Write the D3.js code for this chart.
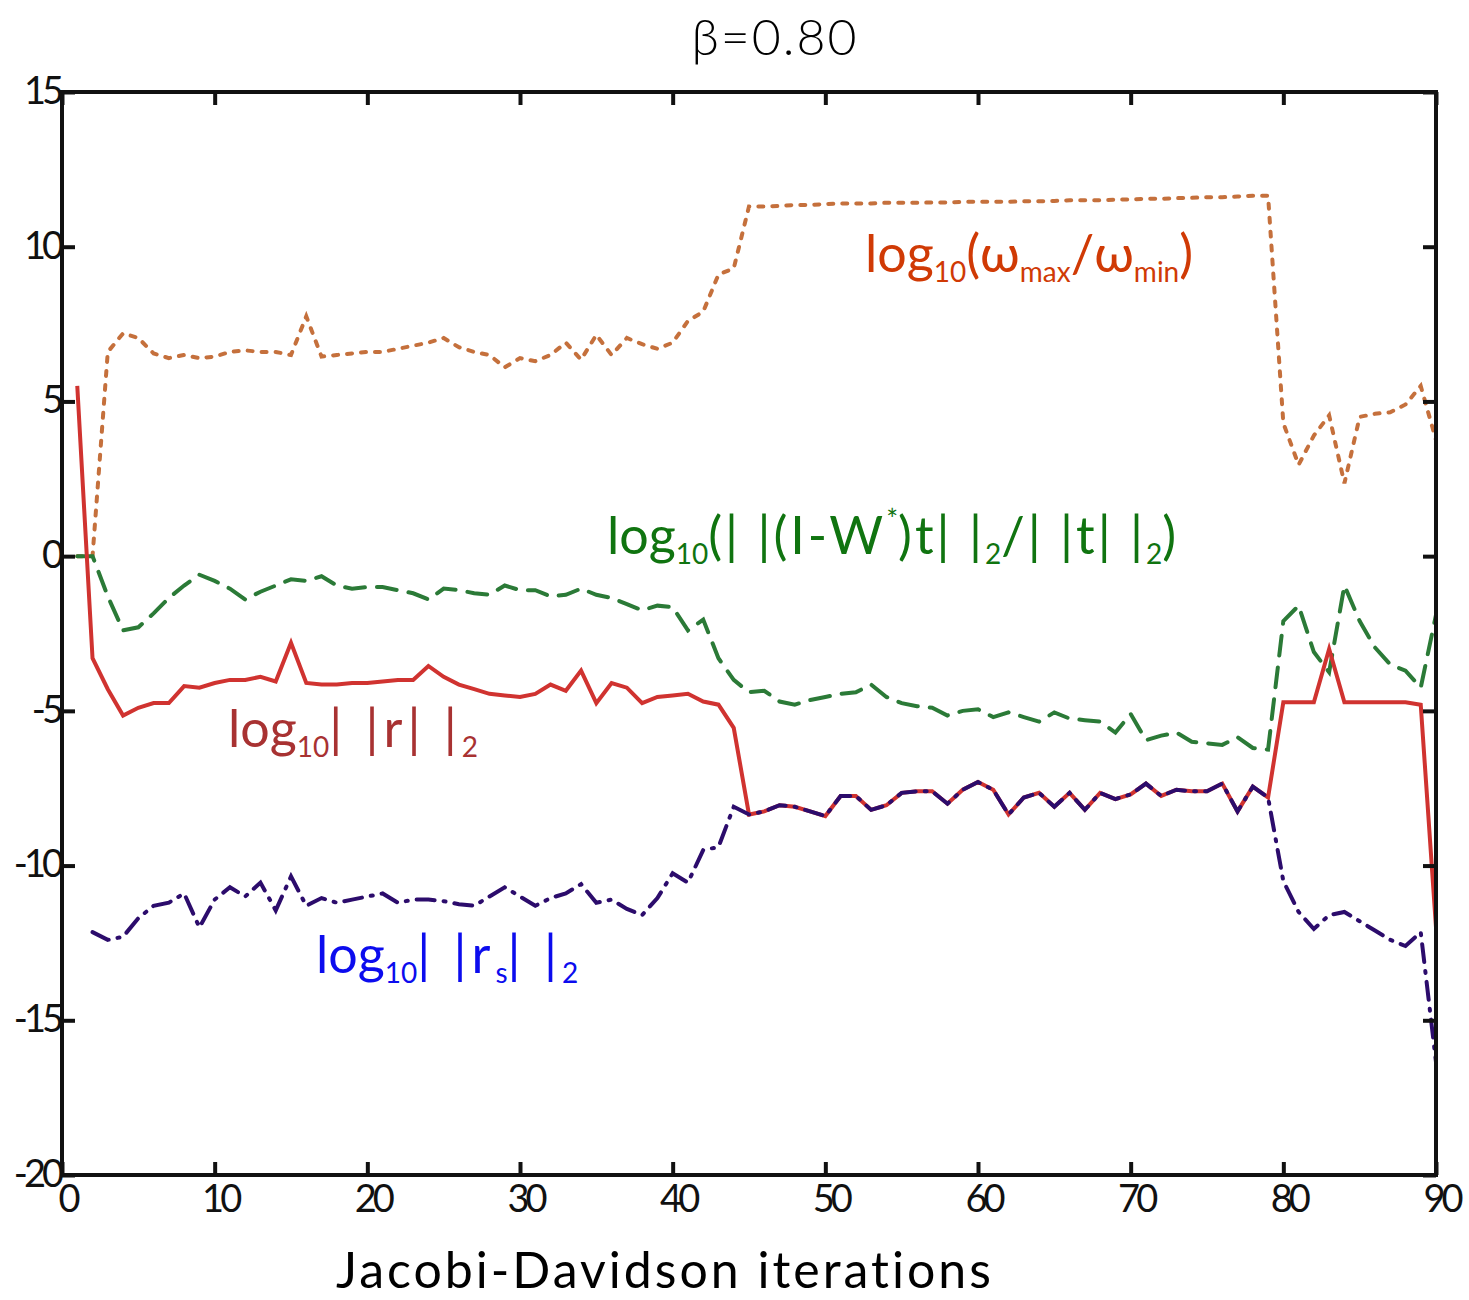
<!DOCTYPE html>
<html>
<head>
<meta charset="utf-8">
<script src="https://cdn.jsdelivr.net/npm/d3@7"></script>
<style>
    body { margin: 0; background: #fff; }
    text { font-family: Lato, "Open Sans", sans-serif; }
</style>
</head>
<body>
<div id="chart"></div>
<script>
// iterations 1..90
const residual = [5.5, -3.3, -4.3, -5.15, -4.9, -4.75, -4.75, -4.2, -4.25, -4.1,
    -4.0, -4.0, -3.9, -4.05, -2.8, -4.1, -4.15, -4.15, -4.1, -4.1,
    -4.05, -4.0, -4.0, -3.55, -3.9, -4.15, -4.3, -4.45, -4.5, -4.55,
    -4.45, -4.15, -4.35, -3.7, -4.75, -4.1, -4.25, -4.75, -4.55, -4.5,
    -4.45, -4.7, -4.8, -5.55, -8.35, -8.25, -8.05, -8.1, -8.25, -8.4,
    -7.75, -7.75, -8.2, -8.05, -7.65, -7.6, -7.6, -8.0, -7.55, -7.3,
    -7.55, -8.35, -7.8, -7.65, -8.1, -7.65, -8.2, -7.65, -7.85, -7.7,
    -7.35, -7.75, -7.55, -7.6, -7.6, -7.35, -8.25, -7.45, -7.8, -4.72,
    -4.72, -4.72, -3.0, -4.72, -4.72, -4.72, -4.72, -4.72, -4.8, -12.0];

// iterations 2..90
const residualS = [-12.15, -12.4, -12.3, -11.7, -11.3, -11.2, -10.9, -12.0, -11.1,
    -10.7, -11.0, -10.55, -11.45, -10.35, -11.3, -11.05, -11.2, -11.1, -11.0,
    -10.9, -11.2, -11.1, -11.1, -11.15, -11.25, -11.3, -11.0, -10.7, -11.0,
    -11.3, -11.05, -10.9, -10.6, -11.2, -11.1, -11.4, -11.6, -11.05, -10.25,
    -10.55, -9.5, -9.4, -8.1, -8.35, -8.25, -8.05, -8.1, -8.25, -8.4,
    -7.75, -7.75, -8.2, -8.05, -7.65, -7.6, -7.6, -8.0, -7.55, -7.3,
    -7.55, -8.35, -7.8, -7.65, -8.1, -7.65, -8.2, -7.65, -7.85, -7.7,
    -7.35, -7.75, -7.55, -7.6, -7.6, -7.35, -8.25, -7.45, -7.8, -10.5,
    -11.5, -12.05, -11.6, -11.5, -11.8, -12.1, -12.4, -12.6, -12.15, -16.35];

// iterations 1..90
const projRatio = [0.0, 0.0, -1.3, -2.4, -2.3, -1.85, -1.35, -0.95, -0.6, -0.8,
    -1.05, -1.4, -1.15, -0.95, -0.75, -0.8, -0.65, -0.95, -1.05, -1.0,
    -1.0, -1.1, -1.2, -1.4, -1.05, -1.1, -1.2, -1.25, -0.95, -1.1,
    -1.1, -1.3, -1.25, -1.05, -1.25, -1.35, -1.55, -1.75, -1.6, -1.65,
    -2.4, -2.05, -3.3, -4.0, -4.4, -4.35, -4.7, -4.8, -4.65, -4.55,
    -4.45, -4.4, -4.15, -4.55, -4.75, -4.85, -4.9, -5.15, -5.0, -4.95,
    -5.2, -5.05, -5.2, -5.35, -5.05, -5.25, -5.3, -5.35, -5.7, -5.1,
    -5.95, -5.8, -5.7, -6.0, -6.05, -6.1, -5.85, -6.2, -6.25, -2.1,
    -1.6, -3.1, -3.75, -0.95, -2.1, -2.95, -3.5, -3.7, -4.25, -1.9];

// iterations 1..90
const condNumber = [0.0, 0.0, 6.6, 7.2, 7.05, 6.55, 6.4, 6.5, 6.4, 6.45,
    6.6, 6.65, 6.6, 6.6, 6.5, 7.75, 6.45, 6.5, 6.55, 6.6,
    6.6, 6.7, 6.8, 6.9, 7.05, 6.75, 6.6, 6.5, 6.1, 6.4,
    6.3, 6.5, 6.9, 6.35, 7.15, 6.5, 7.05, 6.85, 6.7, 6.9,
    7.6, 7.9, 9.1, 9.3, 11.3, 11.3, 11.32, 11.35, 11.35, 11.38,
    11.4, 11.4, 11.4, 11.42, 11.42, 11.42, 11.43, 11.43, 11.45, 11.45,
    11.45, 11.45, 11.47, 11.47, 11.48, 11.5, 11.5, 11.5, 11.52, 11.53,
    11.55, 11.55, 11.57, 11.58, 11.6, 11.6, 11.62, 11.65, 11.65, 4.3,
    2.95, 3.9, 4.55, 2.35, 4.5, 4.6, 4.65, 4.9, 5.5, 3.75];

const xTicks = [0, 10, 20, 30, 40, 50, 60, 70, 80, 90];
const yTicks = [-20, -15, -10, -5, 0, 5, 10, 15];
const chartTitle = "\u03B2=0.80";
const xTitle = "Jacobi-Davidson iterations";

class ConvergencePlot {
    constructor(parentElement) {
        this.parentElement = parentElement;
        this.initVis();
    }

    initVis() {
        let vis = this;

        vis.margin = {top: 92, right: 33, bottom: 125, left: 62};
        vis.width = 1469 - vis.margin.left - vis.margin.right;
        vis.height = 1300 - vis.margin.top - vis.margin.bottom;

        vis.svgRoot = d3.select("#" + vis.parentElement).append("svg")
            .attr("width", 1469)
            .attr("height", 1300);

        vis.svg = vis.svgRoot.append("g")
            .attr("transform", `translate(${vis.margin.left}, ${vis.margin.top})`);

        vis.x = d3.scaleLinear().domain([0, 90]).range([0, vis.width]);
        vis.y = d3.scaleLinear().domain([-20, 15]).range([vis.height, 0]);

        vis.line = d3.line()
            .x(d => vis.x(d.iter))
            .y(d => vis.y(d.val));

        vis.wrangleData();
    }

    wrangleData() {
        let vis = this;
        const toPoints = (arr, start) => arr.map((v, k) => ({iter: start + k, val: v}));

        vis.series = [
            {key: "cond", pts: toPoints(condNumber, 1), color: "#c5703c", dash: "5,9", cap: "round"},
            {key: "proj", pts: toPoints(projRatio, 1), color: "#2b7a37", dash: "20,12", cap: "round"},
            {key: "res", pts: toPoints(residual, 1), color: "#d03330", dash: null, cap: "butt"},
            {key: "resS", pts: toPoints(residualS, 2), color: "#2c0c6c", dash: "18,9,2,9", cap: "round"}
        ];

        vis.updateVis();
    }

    updateVis() {
        let vis = this;

        // clip lines to the frame
        vis.svgRoot.append("defs").append("clipPath").attr("id", "plotClip")
            .append("rect").attr("x", 0).attr("y", -2).attr("width", vis.width).attr("height", vis.height + 4);

        vis.svg.append("g").attr("clip-path", "url(#plotClip)")
            .selectAll(".series")
            .data(vis.series)
            .enter()
            .append("path")
            .attr("class", "series")
            .attr("d", d => vis.line(d.pts))
            .attr("fill", "none")
            .attr("stroke", d => d.color)
            .attr("stroke-width", 4)
            .attr("stroke-linejoin", "miter")
            .attr("stroke-linecap", d => d.cap)
            .attr("stroke-dasharray", d => d.dash);

        // axes with inward ticks on all four sides
        const tickFmt = d => String(d);
        vis.svg.append("g").attr("class", "axis x-axis")
            .attr("transform", `translate(0, ${vis.height})`)
            .call(d3.axisBottom(vis.x).tickValues(xTicks).tickSizeInner(-13).tickSizeOuter(0).tickPadding(10).tickFormat(tickFmt));
        vis.svg.append("g").attr("class", "axis")
            .call(d3.axisTop(vis.x).tickValues(xTicks).tickSizeInner(-13).tickSizeOuter(0).tickFormat(""));
        vis.svg.append("g").attr("class", "axis y-axis")
            .call(d3.axisLeft(vis.y).tickValues(yTicks).tickSizeInner(-13).tickSizeOuter(0).tickPadding(2).tickFormat(tickFmt));
        vis.svg.append("g").attr("class", "axis")
            .attr("transform", `translate(${vis.width}, 0)`)
            .call(d3.axisRight(vis.y).tickValues(yTicks).tickSizeInner(-13).tickSizeOuter(0).tickFormat(""));

        vis.svg.selectAll(".axis path").remove();
        vis.svg.selectAll(".axis line").attr("stroke", "#111").attr("stroke-width", 4);
        vis.svg.selectAll(".axis text")
            .attr("fill", "#111")
            .style("font-size", "38px")
            .style("letter-spacing", "-4px");
        vis.svg.selectAll(".x-axis text").attr("dy", "0.72em").attr("dx", 5);
        vis.svg.selectAll(".y-axis text").attr("dy", "0.3em");

        vis.svg.append("rect")
            .attr("width", vis.width).attr("height", vis.height)
            .attr("fill", "none").attr("stroke", "#111").attr("stroke-width", 4);

        // titles
        vis.svgRoot.append("text")
            .attr("x", 775).attr("y", 55)
            .attr("text-anchor", "middle")
            .style("font-size", "50px")
            .style("font-weight", 300)
            .style("letter-spacing", "2px")
            .text(chartTitle);

        vis.svgRoot.append("text")
            .attr("x", 665).attr("y", 1288)
            .attr("text-anchor", "middle")
            .style("font-size", "50px")
            .style("letter-spacing", "3px")
            .text(xTitle);

        // inline series labels
        vis.addLabel(865, 272, "#d03a05", [
            {t: "log"}, {t: "10", sub: true}, {t: "(\u03C9"}, {t: "max", sub: true},
            {t: "/\u03C9"}, {t: "min", sub: true}, {t: ")"}]);
        vis.addLabel(607, 554, "#107410", [
            {t: "log"}, {t: "10", sub: true}, {t: "(| |(I-W", ls: 3}, {t: "*", sup: true},
            {t: ")t| |", ls: 3}, {t: "2", sub: true}, {t: "/| |t| |", ls: 3}, {t: "2", sub: true}, {t: ")"}]);
        vis.addLabel(228, 747, "#a83232", [
            {t: "log"}, {t: "10", sub: true}, {t: "| |r| |", ls: 5}, {t: "2", sub: true}]);
        vis.addLabel(316, 973, "#0c0cee", [
            {t: "log"}, {t: "10", sub: true}, {t: "| |r", ls: 5}, {t: "s", sub: true},
            {t: "| |", ls: 5}, {t: "2", sub: true}]);
    }

    addLabel(x, y, color, parts) {
        let vis = this;
        const size = 52;
        const txt = vis.svgRoot.append("text")
            .attr("x", x).attr("y", y)
            .attr("fill", color)
            .style("font-size", size + "px");
        let shift = 0;
        parts.forEach(p => {
            const target = p.sub ? 10 : (p.sup ? -24 : 0);
            txt.append("tspan")
                .attr("dy", target - shift)
                .style("font-size", (p.sub || p.sup) ? "28px" : size + "px")
                .style("letter-spacing", (p.ls || 0) + "px")
                .text(p.t);
            shift = target;
        });
    }
}

new ConvergencePlot("chart");
</script>
</body>
</html>
